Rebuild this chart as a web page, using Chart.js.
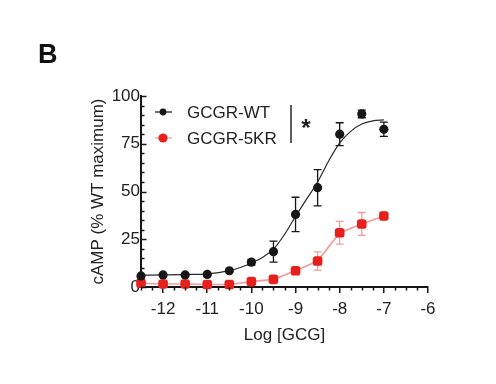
<!DOCTYPE html>
<html><head><meta charset="utf-8">
<script src="https://cdn.jsdelivr.net/npm/chart.js@4.4.1/dist/chart.umd.min.js"></script>
<style>
html,body{margin:0;padding:0;background:#fff;}
#wrap{position:relative;width:496px;height:384px;overflow:hidden;}
#c{position:absolute;left:0;top:0;}
#panel{position:absolute;left:38px;top:38px;font:bold 27px "Liberation Sans",Arial,sans-serif;color:#111;line-height:32px;}
</style></head><body>
<div id="wrap"><canvas id="c" width="496" height="384"></canvas><div id="panel">B</div></div>
<script>
// ---- data ----
const logDose = [-12.5, -12, -11.5, -11, -10.5, -10, -9.5, -9, -8.5, -8, -7.5, -7];
const wtMean  = [5.8, 6.3, 6.3, 6.6, 8.5, 13, 18.5, 38, 52, 80, 90.6, 82.6];
const wtSem   = [0, 0, 0, 0, 0, 1.5, 5.5, 9, 9.5, 6, 2, 3.7];
const kr5Mean = [2, 1.6, 1.6, 1.3, 1.3, 2.8, 4, 8.5, 13.6, 28.4, 33, 37.2];
const kr5Sem  = [0, 0, 0, 0, 0, 0, 0, 0, 4.8, 6, 6, 2];
// WT fitted curve
const wtFitX = [-12.5, -12, -11.5, -11, -10.5, -10.25, -10, -9.75, -9.5, -9.25, -9, -8.75, -8.5, -8.25, -8, -7.75, -7.5, -7.25, -7];
const wtFitY = [6.2, 6.3, 6.5, 6.9, 8.6, 10.2, 12.6, 15.5, 19.8, 27.5, 37, 46, 55, 66, 75.5, 81.5, 85.3, 87, 87.5];
const seriesNames = ['GCGR-WT', 'GCGR-5KR'];
const xTicks = [-12, -11, -10, -9, -8, -7, -6];
const yTicks = [0, 25, 50, 75, 100];
const xTitle = 'Log [GCG]';
const yTitle = 'cAMP (% WT maximum)';
const sigMark = '*';

const FONT = '"Liberation Sans", Arial, Helvetica, sans-serif';
const BLACK = '#161616';
const RED = '#e5211d';
const PINK = '#f39c9a';

const pts = (xs, ys) => xs.map((x, i) => ({x: x, y: ys[i]}));

const errorBars = {
  id: 'errorBars',
  beforeDatasetsDraw(chart) {
    const {ctx, scales: {x, y}} = chart;
    const sets = [[wtMean, wtSem, BLACK], [kr5Mean, kr5Sem, PINK]];
    ctx.save();
    ctx.lineWidth = 1.3;
    sets.forEach(([m, s, col]) => {
      ctx.strokeStyle = col;
      logDose.forEach((d, i) => {
        if (!s[i]) return;
        const px = x.getPixelForValue(d);
        const top = y.getPixelForValue(m[i] + s[i]);
        const bot = y.getPixelForValue(m[i] - s[i]);
        ctx.beginPath();
        ctx.moveTo(px, top); ctx.lineTo(px, bot);
        ctx.moveTo(px - 4, top); ctx.lineTo(px + 4, top);
        ctx.moveTo(px - 4, bot); ctx.lineTo(px + 4, bot);
        ctx.stroke();
      });
    });
    ctx.restore();
  }
};

const axisDecor = {
  id: 'axisDecor',
  afterDraw(chart) {
    const {ctx, scales: {x, y}, chartArea: a} = chart;
    ctx.save();
    ctx.strokeStyle = BLACK;
    ctx.lineWidth = 1.5;
    // x minor ticks (outside, below)
    ctx.beginPath();
    for (let v = x.min; v <= x.max + 1e-9; v += 0.25) {
      if (Math.abs(v - Math.round(v)) < 1e-9) continue;
      const px = Math.round(x.getPixelForValue(v)) + 0.5;
      ctx.moveTo(px, a.bottom); ctx.lineTo(px, a.bottom + 3.5);
    }
    ctx.stroke();
    // y ticks (inside, to the right)
    ctx.beginPath();
    for (let v = y.min; v <= y.max + 1e-9; v += 5) {
      const major = v % 25 === 0;
      const py = Math.round(y.getPixelForValue(v)) + 0.5;
      ctx.moveTo(a.left, py); ctx.lineTo(a.left + (major ? 5.5 : 3.5), py);
    }
    ctx.stroke();

    // legend
    const lx = a.left + 22;
    const ly1 = a.top + 16, ly2 = a.top + 42;
    ctx.lineWidth = 1.2;
    ctx.strokeStyle = BLACK;
    ctx.beginPath(); ctx.moveTo(lx - 8, ly1); ctx.lineTo(lx + 9, ly1); ctx.stroke();
    ctx.fillStyle = BLACK;
    ctx.beginPath(); ctx.arc(lx, ly1, 3.4, 0, Math.PI * 2); ctx.fill();
    ctx.strokeStyle = PINK;
    ctx.beginPath(); ctx.moveTo(lx - 8, ly2); ctx.lineTo(lx + 9, ly2); ctx.stroke();
    ctx.fillStyle = RED;
    ctx.beginPath(); ctx.arc(lx, ly2, 4.6, 0, Math.PI * 2); ctx.fill();

    ctx.fillStyle = '#222';
    ctx.font = '17px ' + FONT;
    ctx.textAlign = 'left';
    ctx.textBaseline = 'middle';
    ctx.fillText(seriesNames[0], a.left + 46, ly1 + 1);
    ctx.fillText(seriesNames[1], a.left + 46, ly2 + 1);

    // significance bar and asterisk
    ctx.strokeStyle = '#333';
    ctx.lineWidth = 1.6;
    ctx.beginPath(); ctx.moveTo(a.left + 150, a.top + 9); ctx.lineTo(a.left + 150, a.top + 47); ctx.stroke();
    ctx.font = 'bold 24px ' + FONT;
    ctx.textAlign = 'center';
    ctx.textBaseline = 'alphabetic';
    ctx.fillStyle = '#222';
    ctx.fillText(sigMark, a.left + 165, a.top + 40);
    ctx.restore();
  }
};

new Chart(document.getElementById('c'), {
  type: 'scatter',
  data: {
    datasets: [
      {
        label: seriesNames[1],
        data: pts(logDose, kr5Mean),
        showLine: true,
        borderColor: PINK,
        borderWidth: 1.6,
        pointStyle: 'rectRounded',
        pointRadius: 5.6,
        pointBackgroundColor: RED,
        pointBorderColor: RED,
        pointBorderWidth: 0,
        tension: 0,
        clip: false,
        order: 3
      },
      {
        label: 'WT fit',
        data: pts(wtFitX, wtFitY),
        showLine: true,
        borderColor: '#2a2a2a',
        borderWidth: 1.2,
        pointRadius: 0,
        tension: 0.4,
        cubicInterpolationMode: 'monotone',
        clip: false,
        order: 2
      },
      {
        label: seriesNames[0],
        data: pts(logDose, wtMean),
        showLine: false,
        pointRadius: 4.6,
        pointBackgroundColor: BLACK,
        pointBorderColor: BLACK,
        pointBorderWidth: 0,
        clip: false,
        order: 1
      }
    ]
  },
  options: {
    responsive: false,
    animation: false,
    events: [],
    layout: {padding: {left: 88, right: 68, top: 96, bottom: 0}},
    plugins: {legend: {display: false}, tooltip: {enabled: false}},
    scales: {
      x: {
        type: 'linear', min: -12.5, max: -6,
        afterBuildTicks: s => { s.ticks = xTicks.map(v => ({value: v})); },
        afterFit: s => { s.height = 97; },
        ticks: {color: '#222', font: {family: FONT, size: 17}, padding: 6, maxRotation: 0, autoSkip: false,
          callback: v => String(v)},
        grid: {drawOnChartArea: false, drawTicks: true, tickLength: 6, color: BLACK, lineWidth: 1.5},
        border: {color: BLACK, width: 2},
        title: {display: true, text: xTitle, color: '#222', font: {family: FONT, size: 17}, padding: {top: 0, bottom: 38}}
      },
      y: {
        type: 'linear', min: 0, max: 100,
        afterBuildTicks: s => { s.ticks = yTicks.map(v => ({value: v})); },
        afterFit: s => { s.width = 53; },
        ticks: {color: '#222', font: {family: FONT, size: 17}, padding: 1},
        grid: {drawOnChartArea: false, drawTicks: false},
        border: {color: BLACK, width: 2},
        title: {display: true, text: yTitle, color: '#222', font: {family: FONT, size: 17}, padding: {top: 0, bottom: 0}}
      }
    }
  },
  plugins: [errorBars, axisDecor]
});
</script>
</body></html>
